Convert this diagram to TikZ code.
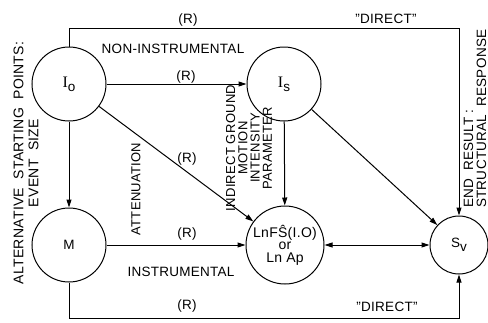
\documentclass[tikz,border=0pt]{standalone}
\usepackage{fontspec}
\setmainfont{Liberation Sans}[LetterSpace=2]
\newfontfamily\seriffont{Liberation Serif}
\usetikzlibrary{arrows.meta}
\begin{document}
\begin{tikzpicture}[x=1pt,y=-1pt,
  circ/.style={circle, draw, line width=1pt, minimum size=74pt, inner sep=0pt, font=\fontsize{13.5}{13.5}\selectfont},
  lbl/.style={font=\fontsize{13.5}{13.5}\selectfont, inner sep=0pt},
  vlbl/.style={lbl, rotate=90, align=center, font=\fontsize{13}{12.3}\selectfont},
  arr/.style={-{Triangle[length=8pt,width=5pt]}, line width=1pt},
  darr/.style={{Triangle[length=8pt,width=5pt]}-{Triangle[length=8pt,width=5pt]}, line width=1pt}]
\useasboundingbox (0,0) rectangle (488,322);
% nodes
\node[circ] (I0) at (69,84) {{\fontsize{16}{16}\selectfont\seriffont I}\raisebox{-0.6ex}{o}};
\node[circ] (Is) at (284,84) {{\fontsize{16}{16}\selectfont\seriffont I}\raisebox{-0.6ex}{s}};
\node[circ] (M) at (69,245) {M};
\node[circ, minimum size=78pt, align=center, font=\fontsize{14}{12.5}\selectfont] (L) at (285,245) {LnF\^{S}(I.O)\\or\\Ln\ Ap};
\node[circ, minimum size=58pt] (Sv) at (459,245) {S\raisebox{-0.6ex}{v}};
\coordinate (topy) at (0,28);
\coordinate (boty) at (0,318);
% connectors
\draw[arr] (I0) -- (Is);
\draw[arr] (I0) -- (M);
\draw[arr] (I0) -- (L);
\draw[arr] (Is) -- (L);
\draw[arr] (Is) -- (Sv);
\draw[arr] (M) -- (L);
\draw[darr] (L) -- (Sv);
\draw[arr] (I0.north) -- (I0.north |- topy) -| (Sv.north);
\draw[arr] (M.south) -- (M.south |- boty) -| (Sv.south);
% labels
\node[lbl] (r1) at (188,20) {(R)};
\node[lbl] (d1) at (386,19) {"DIRECT"};
\node[lbl] (ni) at (173,49) {NON-INSTRUMENTAL};
\node[lbl] (r2) at (186,77) {(R)};
\node[lbl] (r3) at (187,159) {(R)};
\node[vlbl] (att) at (136,189) {ATTENUATION};
\node[lbl] (r4) at (187,234) {(R)};
\node[lbl] (ins) at (181,272) {INSTRUMENTAL};
\node[lbl] (r5) at (187,306) {(R)};
\node[lbl] (d2) at (387,307) {"DIRECT"};
\node[vlbl] (ind) at (249,148) {INDIRECT GROUND\\MOTION\\INTENSITY\\PARAMETER};
\node[vlbl, font=\fontsize{14}{15}\selectfont] (alt) at (26,163) {ALTERNATIVE\ \ STARTING\ \ POINTS:\\EVENT\ \ SIZE};
\node[vlbl, align=left, anchor=west, font=\fontsize{13.5}{13}\selectfont] (end) at (475,208) {END\ \ RESULT :\\STRUCTURAL\ \ RESPONSE};
\end{tikzpicture}
\end{document}
